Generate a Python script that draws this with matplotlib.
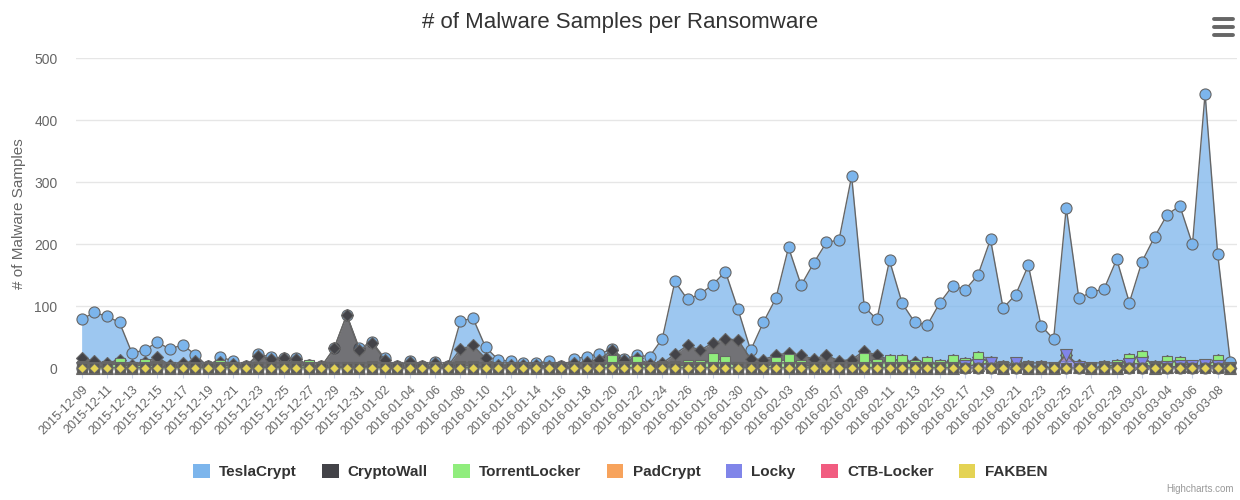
import numpy as np
import pandas as pd
import matplotlib
matplotlib.use("Agg")
import matplotlib.pyplot as plt
from matplotlib.patches import Patch

plt.rcParams['font.family'] = ['Liberation Sans', 'DejaVu Sans']

# categories: one point per day
dates = pd.date_range('2015-12-09', '2016-03-09').strftime('%Y-%m-%d').tolist()

# sample counts per ransomware family
tesla_crypt = [63, 78, 76, 60, 19, 20, 24, 26, 30, 10,
               0, 8, 5, 0, 3, 3, 1, 1, 0, 0,
               0, 0, 2, 2, 2, 0, 2, 0, 2, 0,
               45, 44, 18, 9, 5, 3, 4, 7, 0, 7,
               9, 9, 2, 2, 5, 12, 40, 117, 74, 91,
               94, 109, 49, 14, 60, 92, 170, 113, 155, 182,
               195, 296, 71, 58, 160, 92, 64, 60, 101, 119,
               119, 132, 198, 94, 111, 163, 66, 47, 237, 108,
               123, 125, 171, 91, 152, 209, 236, 252, 197, 438,
               171, 10]
crypto_wall = [12, 10, 4, 6, 3, 3, 15, 3, 6, 10,
               3, 4, 5, 3, 18, 14, 13, 12, 0, 3,
               30, 84, 28, 37, 14, 3, 10, 3, 8, 3,
               27, 33, 14, 5, 6, 5, 5, 4, 3, 8,
               10, 14, 16, 10, 5, 5, 5, 20, 31, 24,
               25, 35, 44, 15, 14, 11, 10, 15, 13, 19,
               12, 12, 11, 14, 0, 0, 5, 0, 0, 0,
               0, 0, 0, 0, 0, 0, 0, 0, 0, 3,
               0, 0, 0, 0, 0, 0, 0, 0, 0, 0,
               0, 0]
torrent_locker = [4, 2, 4, 8, 2, 7, 3, 2, 2, 2,
                  0, 6, 2, 0, 2, 1, 3, 3, 5, 0,
                  2, 2, 2, 4, 0, 0, 0, 0, 0, 0,
                  4, 4, 2, 0, 0, 0, 0, 0, 0, 0,
                  0, 0, 13, 3, 11, 2, 3, 3, 6, 5,
                  16, 12, 2, 0, 0, 10, 15, 6, 2, 2,
                  0, 2, 17, 7, 14, 13, 5, 10, 5, 14,
                  5, 12, 2, 3, 0, 3, 3, 0, 0, 0,
                  0, 3, 5, 8, 12, 3, 10, 7, 0, 0,
                  10, 0]
pad_crypt = [0] * 92
locky = [0] * 70 + [3, 6, 8, 0, 8, 0, 0, 0, 22, 2,
                    0, 0, 0, 7, 8, 0, 2, 3, 3, 5,
                    3, 0]
ctb_locker = [0] * 92
fakben = [0] * 92

names = ['TeslaCrypt', 'CryptoWall', 'TorrentLocker', 'PadCrypt',
         'Locky', 'CTB-Locker', 'FAKBEN']
values = [tesla_crypt, crypto_wall, torrent_locker, pad_crypt,
          locky, ctb_locker, fakben]
colors = ['#7cb5ec', '#434348', '#90ed7d', '#f7a35c',
          '#8085e9', '#f15c80', '#e4d354']
markers = ['o', 'D', 's', '^', 'v', 'o', 'D']
msizes = [8, 6, 7, 8, 8, 8, 5.5]

fig = plt.figure(figsize=(12.4, 5), dpi=100)
ax = fig.add_axes([0.061, 0.2634, 0.9363, 0.62])

x = np.arange(len(dates))
data = np.array(values, dtype=float)
# first series sits on top of the stack
tops = np.cumsum(data[::-1], axis=0)[::-1]
bottoms = tops - data

for k in range(len(names)):
    z = 2 + 3 * k
    ax.fill_between(x, bottoms[k], tops[k], color=colors[k], alpha=0.75,
                    linewidth=0, zorder=z)
    ax.plot(x, tops[k], color='#666666', lw=1, zorder=z + 1)
    if k == len(names) - 1:
        # overlapping zero-value markers of the lower series form a dark block
        ax.plot(x, bottoms[k], linestyle='none', marker='s', ms=7.8,
                mfc='#5d5b55', mec='#666666', mew=0.8, zorder=z + 1.5,
                clip_on=False)
    ax.plot(x, tops[k], linestyle='none', marker=markers[k], ms=msizes[k],
            mfc=colors[k], mec='#666666', mew=0.8, zorder=z + 2, clip_on=False)

ax.set_xlim(-0.475, 91.5)
ax.set_ylim(0, 500)
ax.set_yticks([0, 100, 200, 300, 400, 500])
ax.yaxis.grid(True, color='#e6e6e6', lw=1)
ax.set_axisbelow(True)
for s in ['top', 'right', 'left']:
    ax.spines[s].set_visible(False)
ax.spines['bottom'].set_color('#ccd6eb')
ax.tick_params(axis='y', length=0, labelsize=10, labelcolor='#666666', pad=13)

ax.set_xticks(x[::2])
ax.set_xticklabels(dates[::2], rotation=45, ha='right', rotation_mode='anchor')
ax.tick_params(axis='x', length=7, color='#ccd6eb', labelsize=9,
               labelcolor='#666666', pad=4)

ax.set_ylabel('# of Malware Samples', color='#666666', fontsize=11, labelpad=6)
fig.text(0.5, 0.955, '# of Malware Samples per Ransomware', ha='center',
         va='center', fontsize=16, color='#333333')

handles = [Patch(facecolor=c, edgecolor='none') for c in colors]
leg = fig.legend(handles, names, loc='center', bbox_to_anchor=(0.5, 0.057),
                 ncol=7, frameon=False, handlelength=1.1, handleheight=1.1,
                 columnspacing=1.65, handletextpad=0.6,
                 prop={'weight': 'bold', 'size': 11})
for t in leg.get_texts():
    t.set_color('#333333')

# menu icon
for yy in [0.962, 0.946, 0.930]:
    fig.add_artist(plt.Line2D([0.979, 0.994], [yy, yy], color='#666666',
                              lw=2.8, solid_capstyle='round'))

fig.text(0.995, 0.012, 'Highcharts.com', ha='right', va='bottom',
         fontsize=7, color='#999999')

fig.savefig('out.png', dpi=100)
